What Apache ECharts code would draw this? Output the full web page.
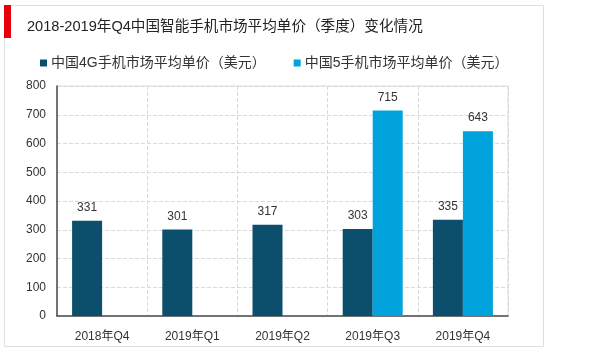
<!DOCTYPE html>
<html>
<head>
<meta charset="utf-8">
<script src="https://cdn.jsdelivr.net/npm/echarts@6/dist/echarts.min.js"></script>
<style>
  html, body { margin: 0; padding: 0; background: #fff; }
  #chart { width: 600px; height: 352px; }
</style>
</head>
<body>
<div id="chart"></div>
<script>
const quarters = ['2018年Q4', '2019年Q1', '2019年Q2', '2019年Q3', '2019年Q4']
const price4G = [331, 301, 317, 303, 335]
const price5G = [null, null, null, 715, 643]
const yTicks = { min: 0, max: 800, interval: 100 }

const font = "'Liberation Sans', 'Noto Sans CJK SC', sans-serif"

const chart = echarts.init(document.getElementById('chart'))

const labelStyle = {
  show: true,
  position: 'top',
  distance: 7,
  color: '#333',
  fontSize: 12,
  fontFamily: font,
}

chart.setOption({
  animation: false,
  textStyle: { fontFamily: font },
  // 外框 + 左侧红条
  graphic: [
    {
      type: 'rect',
      shape: { x: 4.5, y: 5.5, width: 539, height: 341 },
      style: { fill: 'none', stroke: '#dedede', lineWidth: 1 },
    },
    {
      type: 'rect',
      shape: { x: 4, y: 5, width: 7, height: 33 },
      style: { fill: '#e8000b' },
    },
  ],
  title: {
    text: '2018-2019年Q4中国智能手机市场平均单价（季度）变化情况',
    left: 22,
    top: 15,
    textStyle: { fontSize: 14.6, fontWeight: 'normal', color: '#222', fontFamily: font },
  },
  legend: {
    left: 35,
    top: 51,
    icon: 'rect',
    itemWidth: 7,
    itemHeight: 7,
    itemGap: 28,
    textStyle: { fontSize: 14, color: '#333', fontFamily: font, padding: [0, 0, 0, -1] },
  },
  grid: {
    left: 57,
    top: 86,
    right: 92,
    bottom: 36,
    show: true,
    borderColor: '#dcdcdc',
    borderWidth: 1,
  },
  xAxis: {
    type: 'category',
    data: quarters,
    axisLine: { lineStyle: { color: '#4d4d4d', width: 1.5 } },
    axisTick: { show: false },
    axisLabel: { color: '#333', fontSize: 12, margin: 15 },
    splitLine: { show: true, lineStyle: { color: '#d9d9d9', type: 'dashed' } },
  },
  yAxis: {
    type: 'value',
    min: yTicks.min,
    max: yTicks.max,
    interval: yTicks.interval,
    axisLine: { show: true, lineStyle: { color: '#4d4d4d', width: 1.5 } },
    axisTick: { show: false },
    axisLabel: { color: '#333', fontSize: 12, margin: 11 },
    splitLine: { lineStyle: { color: '#d9d9d9', type: 'dashed' } },
  },
  series: [
    {
      name: '中国4G手机市场平均单价（美元）',
      type: 'bar',
      data: price4G,
      barWidth: 30,
      barGap: '0%',
      itemStyle: { color: '#0b4f6c' },
      label: labelStyle,
    },
    {
      name: '中国5手机市场平均单价（美元）',
      type: 'bar',
      data: price5G,
      barWidth: 30,
      itemStyle: { color: '#00a3dc' },
      label: labelStyle,
    },
  ],
})
</script>
</body>
</html>
